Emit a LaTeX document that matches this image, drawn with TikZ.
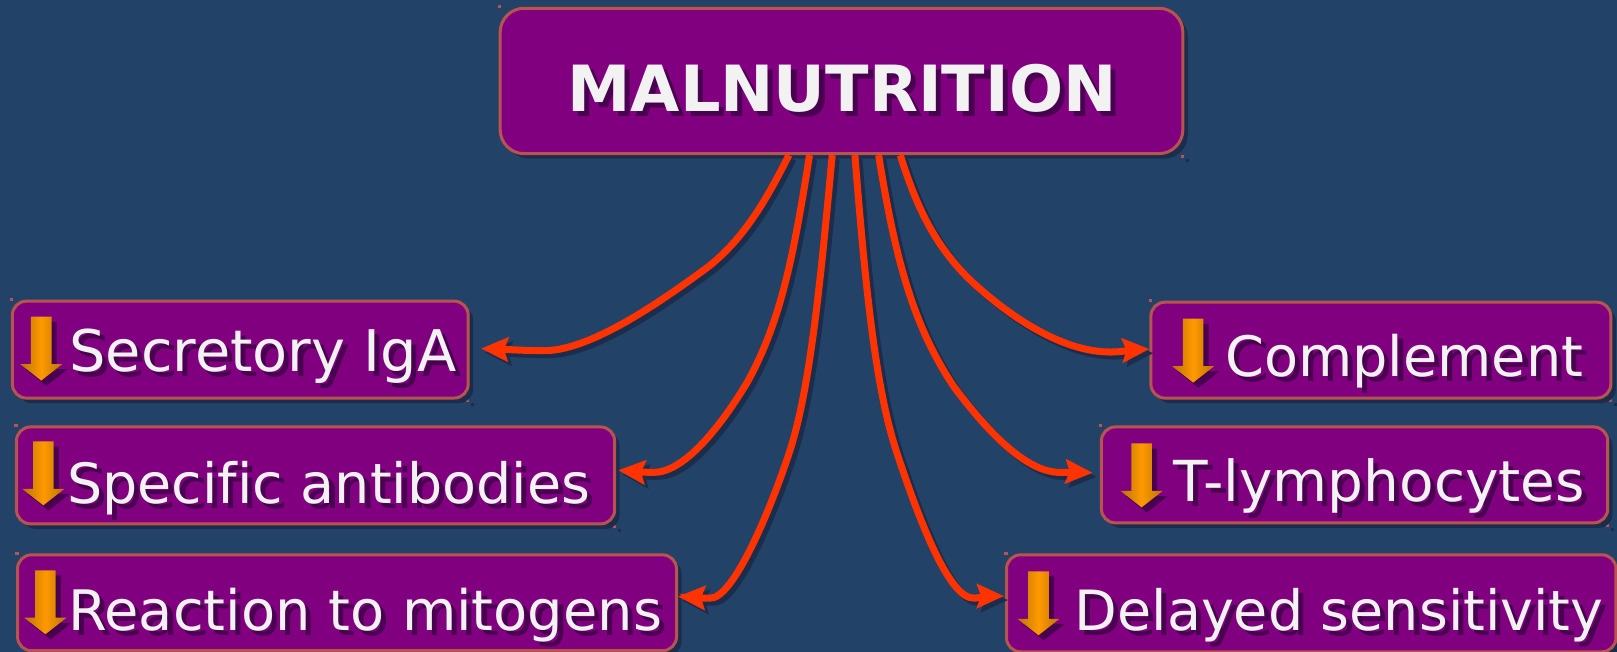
\documentclass[tikz,border=0pt]{standalone}
\usepackage{fontspec}
\setmainfont{DejaVu Sans}
\newfontfamily\bodyf[Ligatures=NoCommon]{DejaVu Sans}
\newfontfamily\headf{DejaVu Sans}
\usetikzlibrary{calc,fit,arrows.meta,shadows}
\definecolor{bgc}{HTML}{234267}
\definecolor{boxc}{HTML}{800080}
\definecolor{edgec}{HTML}{B85450}
\definecolor{shc}{HTML}{1B2D4C}
\definecolor{txtc}{HTML}{F2F2F2}
\definecolor{txtsh}{HTML}{4A0050}
\definecolor{linec}{HTML}{FF3300}
\definecolor{ardark}{HTML}{B87400}
\definecolor{arlite}{HTML}{FF9900}
\tikzset{
  boxst/.style={fill=boxc,draw=edgec,line width=3pt,inner sep=0pt,rounded corners=#1,
    general shadow={fill=shc,shadow xshift=5pt,shadow yshift=-5pt}},
  dotst/.style={fill=edgec,draw=none},
  dotsh/.style={fill=shc,draw=none},
  linest/.style={draw=linec,line width=7pt,-{Stealth[length=27pt,width=24pt,inset=4pt]}},
  lineshadow/.style={draw=shc,line width=7pt,-{Stealth[length=27pt,width=24pt,inset=4pt]},
    transform canvas={xshift=4pt,yshift=-4pt}},
  textst/.style={anchor=base west,inner sep=0pt,text=txtc},
  textsh/.style={anchor=base west,inner sep=0pt,text=txtsh},
}
\newcommand{\bx}[6]{% name x0 y0 x1 y1 radius
  \fill[dotst] (#2-2,#3-3) rectangle ++(3,3);
  \fill[dotst] (#4-2,#5+1) rectangle ++(3,3);
  \fill[dotsh] (#4+3,#5+5) rectangle ++(3,3);
  \node[boxst=#6,fit={(#2,#3)(#4,#5)}] (#1) {};
}
\newcommand{\lbl}[6]{% name x y size text font
  \node[textsh] (#1s) at (#2+5,#3+5) {\fontsize{#4}{#4}\selectfont #6#5};
  \node[textst] (#1t) at (#2,#3) {\fontsize{#4}{#4}\selectfont #6#5};
}
\newcommand{\dn}[2]{% cx top
  \fill[txtsh] (#1-10+5,#2+5) -- ++(20,0) -- ++(0,46) -- ++(10.5,0) -- ++(-20.5,16) -- ++(-20.5,-16) -- ++(10.5,0) -- cycle;
  \shade[left color=ardark,right color=ardark,middle color=arlite]
    (#1-10,#2) -- ++(20,0) -- ++(0,46) -- ++(10.5,0) -- ++(-20.5,16) -- ++(-20.5,-16) -- ++(10.5,0) -- cycle;
}
\newcommand{\conn}[1]{\draw[lineshadow] #1; \draw[linest] #1;}
\begin{document}
\begin{tikzpicture}[x=1.03125pt,y=-1.03125pt]
\useasboundingbox (0,0) rectangle (1568,632);
\fill[bgc] (0,0) rectangle (1568,632);
% boxes
\bx{sec}{12}{292}{454}{386}{14pt}
\bx{spe}{16}{414}{596}{508}{14pt}
\bx{rea}{17}{538}{656}{631}{14pt}
\bx{com}{1116}{293}{1562}{386}{14pt}
\bx{tly}{1068}{414}{1559}{507}{14pt}
\bx{del}{976}{538}{1567}{632}{14pt}
\bx{top}{485}{8}{1147}{149}{24pt}
% connectors
\conn{($(top.south)+(-51,0)$) .. controls (745,190) and (722,232) .. (685,260) .. controls (640,293) and (570,342) .. (525,340) .. controls (510,340) and (495,339) .. ($(sec.east)+(11,-1)$)}
\conn{($(top.south)+(-31,0)$) .. controls (770,245) and (758,310) .. (725,370) .. controls (695,420) and (660,460) .. (632,458) .. controls (622,458) and (612,457) .. ($(spe.east)+(2,-5)$)}
\conn{($(top.south)+(-9,0)$) .. controls (795,280) and (785,380) .. (765,440) .. controls (745,500) and (710,582) .. (688,580) .. controls (678,580) and (668,579) .. ($(rea.east)+(0,-6)$)}
\conn{($(top.south)+(13,0)$) .. controls (840,290) and (850,380) .. (870,440) .. controls (890,500) and (920,582) .. (945,580) .. controls (955,579) and (965,578) .. ($(del.west)+(-1,-7)$)}
\conn{($(top.south)+(36,0)$) .. controls (868,250) and (885,315) .. (925,375) .. controls (955,415) and (995,460) .. (1030,458) .. controls (1040,458) and (1050,458) .. ($(tly.west)+(-7,-2)$)}
\conn{($(top.south)+(57,0)$) .. controls (890,205) and (910,245) .. (950,280) .. controls (990,315) and (1040,345) .. (1085,341) .. controls (1095,340) and (1105,339) .. ($(com.west)+(0,-1)$)}
% down arrows
\dn{40}{307}
\dn{42}{428}
\dn{44}{553}
\dn{1157}{309}
\dn{1107}{430}
\dn{1007}{554}
% labels
\lbl{mal}{550}{108}{63.7pt}{MALNUTRITION}{\headf\bfseries}
\lbl{lsec}{67}{360}{57.4pt}{Secretory IgA}{\bodyf}
\lbl{lspe}{65}{488}{55.5pt}{Specific antibodies}{\bodyf}
\lbl{lrea}{66}{611}{55.8pt}{Reaction to mitogens}{\bodyf}
\lbl{lcom}{1188}{365}{55.7pt}{Complement}{\bodyf}
\lbl{ltly}{1138}{486}{56.5pt}{T-lymphocytes}{\bodyf}
\lbl{ldel}{1042}{611}{55.5pt}{Delayed sensitivity}{\bodyf}
\end{tikzpicture}
\end{document}
